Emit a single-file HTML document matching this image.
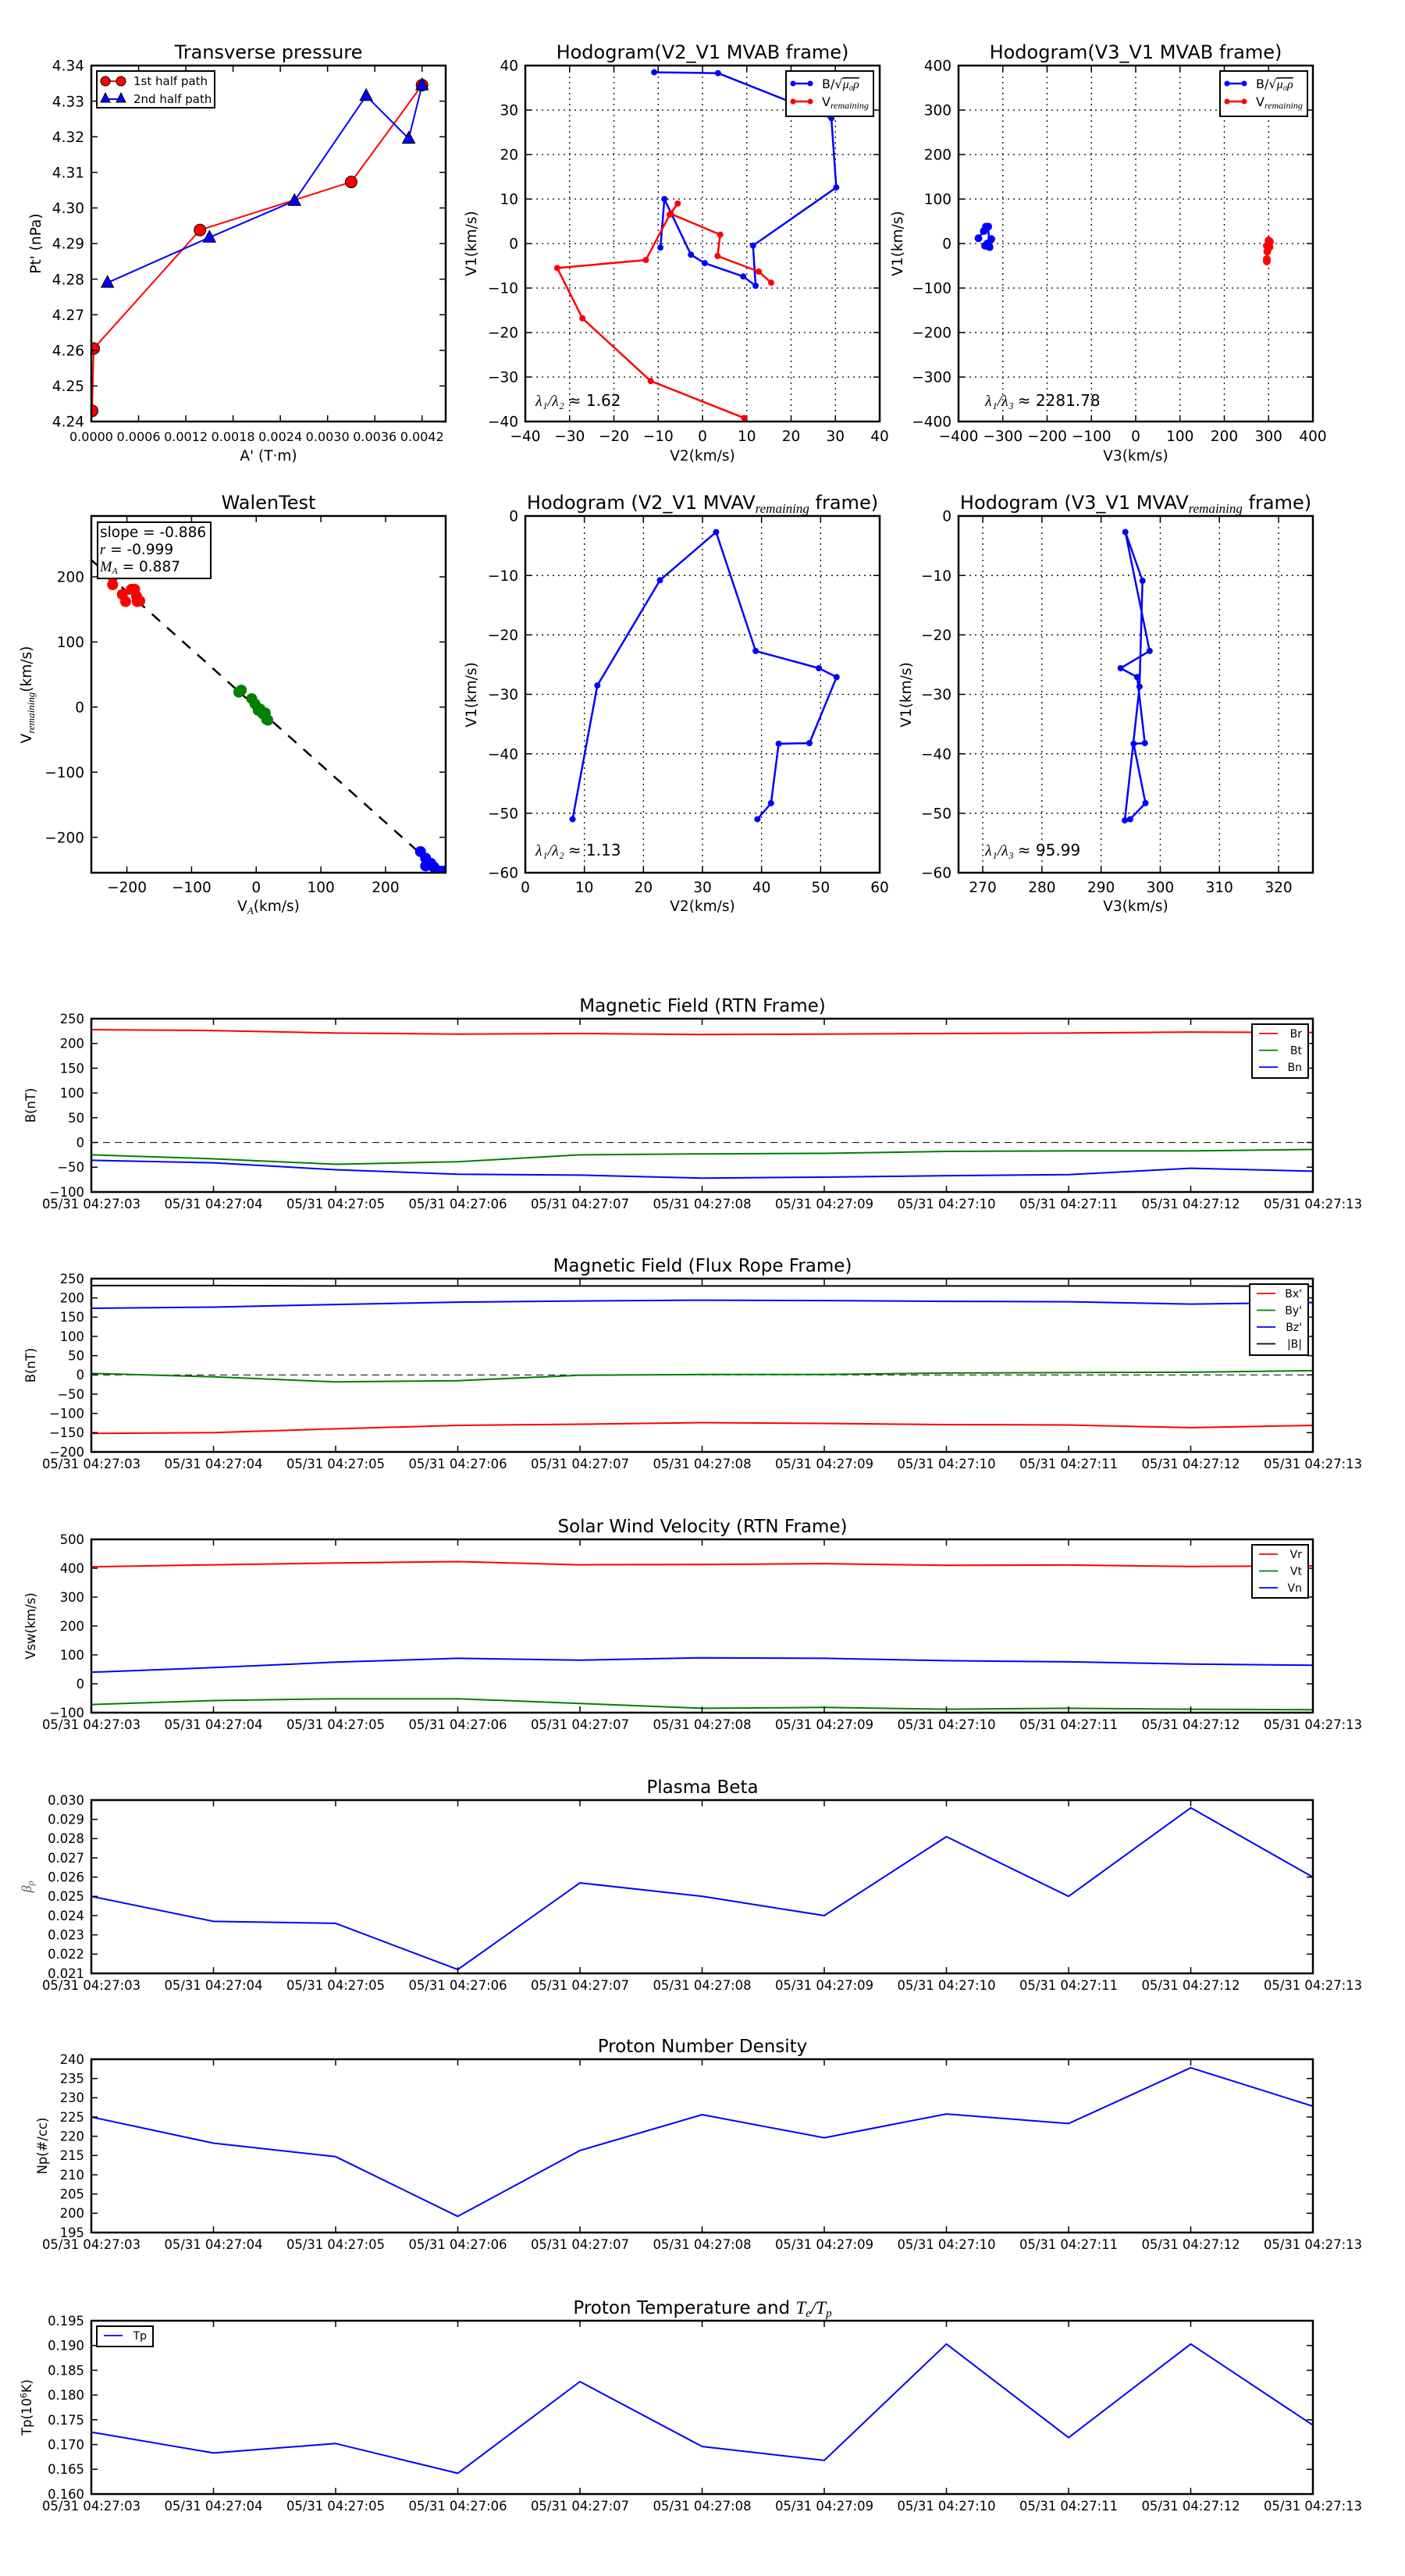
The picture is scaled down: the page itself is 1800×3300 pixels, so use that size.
<!DOCTYPE html>
<html><head><meta charset="utf-8"><style>
html,body{margin:0;padding:0;background:#fff}
svg{display:block;font-family:"DejaVu Sans","Liberation Sans",sans-serif}
</style></head><body>
<svg id="fig" xmlns="http://www.w3.org/2000/svg" width="1800" height="3300" viewBox="0 0 1800 3300"></svg>
<script>
// ---------- data ----------
const tpRedX=[0.00001,0.00003,0.00138,0.0033,0.0042];
const tpRedY=[4.243,4.2605,4.2938,4.3073,4.3345];
const tpBlueX=[0.000205,0.0015,0.00258,0.00349,0.00403,0.0042];
const tpBlueY=[4.279,4.2917,4.302,4.3315,4.3195,4.3345];
const h1BlueX=[-10.9,3.5,29.1,30.2,11.4,12.0,9.2,0.5,-2.6,-8.6,-9.5];
const h1BlueY=[38.5,38.3,28.2,12.6,-0.45,-9.5,-7.4,-4.4,-2.5,10,-0.9];
const h1RedX=[15.5,12.7,3.4,4.0,-7.2,-5.6,-7.4,-12.8,-32.8,-27.1,-11.7,9.4];
const h1RedY=[-8.8,-6.3,-2.8,2,6.7,9,6.5,-3.7,-5.5,-16.8,-30.9,-39.2];
const h2BlueX=[-355,-343,-338,-333,-330,-335,-340,-326];
const h2BlueY=[12,28,38,38,-8,0,-5,10];
const h2RedX=[296,300,303,302,297,296,296];
const h2RedY=[-5,7,4,-8,-18,-35,-40];
const walRedX=[-222,-207,-202,-193,-188,-185,-180,-184,-222];
const walRedY=[188,173,162,181,181,170,163,162,200];
const walGreenX=[-27,-23,-7,-2,3,6,10,14,16,18];
const walGreenY=[23,26,13,5,-5,-3,-10,-9,-19,-20];
const walBlueX=[254,262,262,270,275,280,284,290];
const walBlueY=[-222,-232,-244,-240,-246,-252,-252,-252];
const walSlope=-0.886;
const m2X=[8,12.2,22.8,32.3,39.0,49.7,52.7,48.1,42.9,41.6,39.3];
const m2Y=[-51,-28.5,-10.8,-2.7,-22.7,-25.6,-27.1,-38.2,-38.3,-48.3,-51.0];
const m3X=[294.0,296.5,297.0,294.1,298.2,293.3,296.1,297.4,295.5,297.5,294.9];
const m3Y=[-51.2,-28.7,-10.9,-2.7,-22.7,-25.6,-27.1,-38.2,-38.3,-48.3,-51.0];
const timeLabels=["05/31 04:27:03","05/31 04:27:04","05/31 04:27:05","05/31 04:27:06","05/31 04:27:07","05/31 04:27:08","05/31 04:27:09","05/31 04:27:10","05/31 04:27:11","05/31 04:27:12","05/31 04:27:13"];
const Br=[228,226,221,219,220,218,219,220,221,223,222];
const Bt=[-25,-33,-44,-39,-25,-23,-22,-18,-17,-17,-14];
const Bn=[-36,-41,-55,-64,-66,-72,-70,-67,-65,-52,-58];
const Bxp=[-152,-150,-140,-131,-128,-124,-126,-129,-130,-137,-131];
const Byp=[4,-5,-18,-15,-1,1,1,5,6,7,11];
const Bzp=[173,176,183,189,192,194,193,191,190,184,188];
const Bmag=[232,232,231,231,231,231,231,231,231,231,230];
const Vr=[405,412,418,423,412,413,416,410,411,406,408];
const Vt=[-72,-58,-52,-52,-68,-85,-82,-88,-85,-88,-90];
const Vn=[40,56,75,88,82,90,88,80,76,68,64];
const beta=[0.0250,0.0237,0.0236,0.0212,0.0257,0.0250,0.0240,0.0281,0.0250,0.0296,0.0260];
const Np=[225,218.2,214.7,199.2,216.3,225.6,219.6,225.8,223.3,237.8,227.8];
const Tp=[0.1725,0.1683,0.1702,0.1642,0.1827,0.1696,0.1668,0.1903,0.1714,0.1903,0.1739];

// ---------- helpers ----------
const NS="http://www.w3.org/2000/svg";
const fig=document.getElementById('fig');
const TF=18.5, TT=24;
function mk(tag,attrs,parent){const e=document.createElementNS(NS,tag);for(const k in attrs)e.setAttribute(k,attrs[k]);(parent||fig).appendChild(e);return e;}
function txt(s,attrs,parent){const e=mk('text',attrs,parent);e.textContent=s;return e;}
function axes(name,x0,y0,x1,y1,xmin,xmax,ymin,ymax){
  const g=mk('g',{});
  
  
  const sx=v=>x0+(v-xmin)/(xmax-xmin)*(x1-x0);
  const sy=v=>y1-(v-ymin)/(ymax-ymin)*(y1-y0);
  return {g,sx,sy,x0,y0,x1,y1};
}
function frame(a,sw){const r=mk('rect',{x:a.x0,y:a.y0,width:a.x1-a.x0,height:a.y1-a.y0,fill:'none',stroke:'#000','stroke-width':sw},a.g);
  
  }
function xticks(a,vals,labels,fs,grid,off){
  vals.forEach((v,i)=>{const x=a.sx(v);
    if(grid){const l=mk('line',{x1:x,x2:x,y1:a.y0,y2:a.y1,stroke:'#000','stroke-width':1.3,'stroke-dasharray':'2,5'},a.g);
      
      }
    mk('line',{x1:x,x2:x,y1:a.y1,y2:a.y1-8,stroke:'#000','stroke-width':1.5},a.g);
    mk('line',{x1:x,x2:x,y1:a.y0,y2:a.y0+8,stroke:'#000','stroke-width':1.5},a.g);
    const t=txt(labels[i],{x:x,y:a.y1+off,'font-size':fs,'text-anchor':'middle'},a.g);
    
    
  });
}
function yticks(a,vals,labels,fs,grid){
  vals.forEach((v,i)=>{const y=a.sy(v);
    if(grid){const l=mk('line',{x1:a.x0,x2:a.x1,y1:y,y2:y,stroke:'#000','stroke-width':1.3,'stroke-dasharray':'2,5'},a.g);
      
      }
    mk('line',{x1:a.x0,x2:a.x0+8,y1:y,y2:y,stroke:'#000','stroke-width':1.5},a.g);
    mk('line',{x1:a.x1,x2:a.x1-8,y1:y,y2:y,stroke:'#000','stroke-width':1.5},a.g);
    const t=txt(labels[i],{x:a.x0-9,y:y+fs*0.36,'font-size':fs,'text-anchor':'end'},a.g);
    
    
  });
}
function range(a,b,s){const r=[];for(let v=a;v<=b+s*1e-6;v+=s)r.push(+v.toFixed(6));return r;}
function neg(s){return s.replace('-','\u2212');}
function line(a,xs,ys,color,w,name){const pts=xs.map((x,i)=>a.sx(x).toFixed(1)+','+a.sy(ys[i]).toFixed(1)).join(' ');
  const p=mk('polyline',{points:pts,fill:'none',stroke:color,'stroke-width':w,'stroke-linejoin':'round'},a.g);
  
  return p;}
function dots(a,xs,ys,color,r,name,edge){xs.forEach((x,i)=>{const c=mk('circle',{cx:a.sx(x),cy:a.sy(ys[i]),r:r,fill:color,stroke:edge||'none','stroke-width':1},a.g);
  
  });}
function clip(a,id){const cp=mk('clipPath',{id:id});mk('rect',{x:a.x0,y:a.y0,width:a.x1-a.x0,height:a.y1-a.y0},cp);
  const g=mk('g',{'clip-path':'url(#'+id+')'},a.g);return g;}
function title(s,x,y,fs){const t=txt(s,{x:x,y:y,'font-size':fs,'text-anchor':'middle'});return t;}
function ylabel(s,x,y,fs){const t=txt(s,{x:x,y:y,'font-size':fs,'text-anchor':'middle',transform:'rotate(-90 '+x+' '+y+')'});return t;}
function xlabel(s,x,y,fs){const t=txt(s,{x:x,y:y,'font-size':fs,'text-anchor':'middle'});return t;}

// ---------- Transverse pressure ----------
(function(){
 const a=axes('transverse-pressure-chart',117,84,571,540,0,0.0045,4.24,4.34);
 title('Transverse pressure',344,75,TT);
 const g=clip(a,'c1');
 const A={...a,g:g};
 line(A,tpRedX,tpRedY,'#f00',2,'first-half-path-line');
 line(A,tpBlueX,tpBlueY,'#00f',2,'second-half-path-line');
 dots(A,tpRedX,tpRedY,'#f00',7.5,'first-half-point','#000');
 tpBlueX.forEach((x,i)=>{const cx=a.sx(x),cy=a.sy(tpBlueY[i]);
   const p=mk('polygon',{points:`${cx},${cy-9} ${cx-8},${cy+6} ${cx+8},${cy+6}`,fill:'#00f',stroke:'#000','stroke-width':1},g);
   
   });
 const xv=range(0,0.0042,0.0006);
 xticks(a,xv,xv.map(v=>v.toFixed(4)),16,false,25);
 const yv=range(4.24,4.34,0.01);
 yticks(a,yv,yv.map(v=>v.toFixed(2)),TF,false);
 frame(a,2.5);
 const lg=mk('g',{});
 mk('rect',{x:124,y:91,width:151,height:47,fill:'#fff',stroke:'#000','stroke-width':2},lg);
 mk('line',{x1:135,x2:155,y1:104,y2:104,stroke:'#f00','stroke-width':2},lg);
 mk('circle',{cx:135,cy:104,r:6,fill:'#f00',stroke:'#000'},lg);mk('circle',{cx:155,cy:104,r:6,fill:'#f00',stroke:'#000'},lg);
 txt('1st half path',{x:171,y:109,'font-size':15},lg);
 mk('line',{x1:135,x2:155,y1:127,y2:127,stroke:'#00f','stroke-width':2},lg);
 mk('polygon',{points:'135,119 129,131 141,131',fill:'#00f',stroke:'#000'},lg);mk('polygon',{points:'155,119 149,131 161,131',fill:'#00f',stroke:'#000'},lg);
 txt('2nd half path',{x:171,y:132,'font-size':15},lg);
 ylabel("Pt' (nPa)",52,312,TF);
 xlabel("A' (T\u00b7m)",344,590,TF);
})();

function hodoLegend(x,y){
 const lg=mk('g',{});
 mk('rect',{x:x,y:y,width:112,height:58,fill:'#fff',stroke:'#000','stroke-width':2},lg);
 mk('line',{x1:x+9,x2:x+31,y1:y+16,y2:y+16,stroke:'#00f','stroke-width':2.5},lg);
 mk('circle',{cx:x+9,cy:y+16,r:3.5,fill:'#00f'},lg);mk('circle',{cx:x+31,cy:y+16,r:3.5,fill:'#00f'},lg);
 const t1=txt('B/\u221A',{x:x+46,y:y+22,'font-size':16},lg);
 const ts=mk('tspan',{'font-style':'italic','font-family':'Liberation Serif, serif','text-decoration':'overline'},t1);ts.textContent='\u03BC\u2080\u03C1';
 mk('line',{x1:x+9,x2:x+31,y1:y+39,y2:y+39,stroke:'#f00','stroke-width':2.5},lg);
 mk('circle',{cx:x+9,cy:y+39,r:3.5,fill:'#f00'},lg);mk('circle',{cx:x+31,cy:y+39,r:3.5,fill:'#f00'},lg);
 const t2=txt('V',{x:x+46,y:y+45,'font-size':16},lg);
 const s2=mk('tspan',{'font-style':'italic','font-family':'Liberation Serif, serif','font-size':12,dy:3},t2);s2.textContent='remaining';
}
function lambdaText(s,x,y){const t=txt('',{x:x,y:y,'font-size':20},null);
 
 
 const a=mk('tspan',{'font-style':'italic','font-family':'Liberation Serif, serif'},t);a.textContent=s.split('|')[0];
 const b=mk('tspan',{},t);b.textContent=s.split('|')[1];}

// ---------- Hodogram V2_V1 MVAB ----------
(function(){
 const a=axes('hodogram-v2-v1-mvab-chart',673,84,1127,540,-40,40,-40,40);
 title('Hodogram(V2_V1 MVAB frame)',900,75,TT);
 const tv=range(-40,40,10);
 xticks(a,tv,tv.map(v=>neg(String(v))),TF,true,25);
 yticks(a,tv,tv.map(v=>neg(String(v))),TF,true);
 const g=clip(a,'c2');const A={...a,g:g};
 line(A,h1BlueX,h1BlueY,'#00f',2.5,'b-alfven-line');
 dots(A,h1BlueX,h1BlueY,'#00f',4,'b-alfven-point');
 line(A,h1RedX,h1RedY,'#f00',2.5,'v-remaining-line');
 dots(A,h1RedX,h1RedY,'#f00',4,'v-remaining-point');
 frame(a,2.5);
 hodoLegend(1007,91);
 lambdaText('\u03BB\u2081/\u03BB\u2082 |\u2248 1.62',686,520);
 ylabel('V1(km/s)',610,312,TF);
 xlabel('V2(km/s)',900,590,TF);
})();

// ---------- Hodogram V3_V1 MVAB ----------
(function(){
 const a=axes('hodogram-v3-v1-mvab-chart',1228,84,1682,540,-400,400,-400,400);
 title('Hodogram(V3_V1 MVAB frame)',1455,75,TT);
 const tv=range(-400,400,100);
 xticks(a,tv,tv.map(v=>neg(String(v))),TF,true,25);
 yticks(a,tv,tv.map(v=>neg(String(v))),TF,true);
 const g=clip(a,'c3');const A={...a,g:g};
 line(A,h2BlueX,h2BlueY,'#00f',2.5,'b-alfven-line');
 dots(A,h2BlueX,h2BlueY,'#00f',5,'b-alfven-point');
 line(A,h2RedX,h2RedY,'#f00',2.5,'v-remaining-line');
 dots(A,h2RedX,h2RedY,'#f00',5,'v-remaining-point');
 frame(a,2.5);
 hodoLegend(1563,91);
 lambdaText('\u03BB\u2081/\u03BB\u2083 |\u2248 2281.78',1262,520);
 ylabel('V1(km/s)',1156,312,TF);
 xlabel('V3(km/s)',1455,590,TF);
})();

// ---------- Walen test ----------
(function(){
 const a=axes('walen-test-chart',117,661,571,1118,-255,293,-254.4,293.5);
 title('WalenTest',344,652,TT);
 const g=clip(a,'c4');const A={...a,g:g};
 const d=mk('line',{x1:a.sx(-255),y1:a.sy(walSlope*-255),x2:a.sx(293),y2:a.sy(walSlope*293),stroke:'#000','stroke-width':2.5,'stroke-dasharray':'14,12'},g);
 
 
 dots(A,walRedX,walRedY,'#f00',7,'walen-point-red');
 dots(A,walGreenX,walGreenY,'#008000',7,'walen-point-green');
 dots(A,walBlueX,walBlueY,'#00f',7,'walen-point-blue');
 const tv=[-200,-100,0,100,200];
 xticks(a,tv,tv.map(v=>neg(String(v))),TF,false,25);
 yticks(a,tv,tv.map(v=>neg(String(v))),TF,false);
 frame(a,2.5);
 const bx=mk('g',{});
 mk('rect',{x:125,y:669,width:145,height:72,fill:'#fff',stroke:'#000','stroke-width':2},bx);
 txt('slope = -0.886',{x:128,y:688,'font-size':18.5},bx);
 const t2=txt('',{x:128,y:710,'font-size':18.5},bx);
 const r=mk('tspan',{'font-style':'italic','font-family':'Liberation Serif, serif'},t2);r.textContent='r';
 const r2=mk('tspan',{},t2);r2.textContent=' = -0.999';
 const t3=txt('',{x:128,y:732,'font-size':18.5},bx);
 const m=mk('tspan',{'font-style':'italic','font-family':'Liberation Serif, serif'},t3);m.textContent='M';
 const ms=mk('tspan',{'font-style':'italic','font-family':'Liberation Serif, serif','font-size':12,dy:3},t3);ms.textContent='A';
 const m3=mk('tspan',{dy:-3},t3);m3.textContent=' = 0.887';
 const yl=txt('',{x:40,y:890,'font-size':TF,'text-anchor':'middle',transform:'rotate(-90 40 890)'});
 
 
 const y1=mk('tspan',{},yl);y1.textContent='V';
 const y2=mk('tspan',{'font-style':'italic','font-family':'Liberation Serif, serif','font-size':13,dy:4},yl);y2.textContent='remaining';
 const y3=mk('tspan',{dy:-4},yl);y3.textContent='(km/s)';
 const xl=txt('',{x:344,y:1167,'font-size':TF,'text-anchor':'middle'});
 
 
 const x1=mk('tspan',{},xl);x1.textContent='V';
 const x2=mk('tspan',{'font-style':'italic','font-family':'Liberation Serif, serif','font-size':13,dy:4},xl);x2.textContent='A';
 const x3=mk('tspan',{dy:-4},xl);x3.textContent='(km/s)';
})();

function mvavTitle(pre,cx){const t=txt('',{x:cx,y:652,'font-size':TT,'text-anchor':'middle'});
 
 
 const a=mk('tspan',{},t);a.textContent=pre;
 const b=mk('tspan',{'font-style':'italic','font-family':'Liberation Serif, serif','font-size':17,dy:5},t);b.textContent='remaining';
 const c=mk('tspan',{dy:-5},t);c.textContent=' frame)';}

// ---------- Hodogram V2_V1 MVAV ----------
(function(){
 const a=axes('hodogram-v2-v1-mvav-chart',673,661,1127,1118,0,60,-60,0);
 mvavTitle('Hodogram (V2_V1 MVAV',900);
 const xv=range(0,60,10),yv=range(-60,0,10);
 xticks(a,xv,xv.map(v=>neg(String(v))),TF,true,25);
 yticks(a,yv,yv.map(v=>neg(String(v))),TF,true);
 const g=clip(a,'c5');const A={...a,g:g};
 line(A,m2X,m2Y,'#00f',2.5,'hodogram-line');
 dots(A,m2X,m2Y,'#00f',4,'hodogram-point');
 frame(a,2.5);
 lambdaText('\u03BB\u2081/\u03BB\u2082 |\u2248 1.13',686,1096);
 ylabel('V1(km/s)',610,890,TF);
 xlabel('V2(km/s)',900,1167,TF);
})();

// ---------- Hodogram V3_V1 MVAV ----------
(function(){
 const a=axes('hodogram-v3-v1-mvav-chart',1228,661,1682,1118,265.9,325.8,-60,0);
 mvavTitle('Hodogram (V3_V1 MVAV',1455);
 const xv=range(270,320,10),yv=range(-60,0,10);
 xticks(a,xv,xv.map(v=>String(v)),TF,true,25);
 yticks(a,yv,yv.map(v=>neg(String(v))),TF,true);
 const g=clip(a,'c6');const A={...a,g:g};
 line(A,m3X,m3Y,'#00f',2.5,'hodogram-line');
 dots(A,m3X,m3Y,'#00f',4,'hodogram-point');
 frame(a,2.5);
 lambdaText('\u03BB\u2081/\u03BB\u2083 |\u2248 95.99',1262,1096);
 ylabel('V1(km/s)',1167,890,TF);
 xlabel('V3(km/s)',1455,1167,TF);
})();

// ---------- Time series ----------
const tIdx=timeLabels.map((_,i)=>i);
const SF=16.4, ST=23;
function tsPanel(name,top,ymin,ymax,ystep,dec,ttl,yl,ylx,series,zero,legend){
 const a=axes(name,117,top,1682,top+222,0,10,ymin,ymax);
 if(typeof ttl==='string')title(ttl,900,top-9,ST);else ttl(top-9);
 const g=clip(a,'ct'+top);const A={...a,g:g};
 if(zero){const z=mk('line',{x1:a.x0,x2:a.x1,y1:a.sy(0),y2:a.sy(0),stroke:'#000','stroke-width':1,'stroke-dasharray':'9,6'},g);
   
   }
 series.forEach(s=>line(A,tIdx,s.v,s.c,2,s.n+'-line'));
 xticks(a,tIdx,timeLabels,SF,false,21);
 const yv=range(ymin,ymax,ystep);
 yticks(a,yv,yv.map(v=>neg(v.toFixed(dec))),SF,false);
 frame(a,2.5);
 if(typeof yl==='string')ylabel(yl,ylx,top+111,SF);else yl(ylx,top+111);
 if(legend){const lg=mk('g',{});
   mk('rect',{x:legend.x,y:legend.y,width:legend.w,height:legend.h,fill:'#fff',stroke:'#000','stroke-width':2},lg);
   legend.items.forEach((it,i)=>{const yy=legend.y+12+i*21.5;
     mk('line',{x1:legend.x+9,x2:legend.x+33,y1:yy,y2:yy,stroke:it.c,'stroke-width':1.8},lg);
     txt(it.n,{x:legend.x+legend.w-8,y:yy+5,'font-size':14,'text-anchor':'end'},lg);});}
}
tsPanel('magnetic-field-rtn-chart',1305,-100,250,50,0,'Magnetic Field (RTN Frame)','B(nT)',45,
 [{v:Br,c:'#f00',n:'br'},{v:Bt,c:'#008000',n:'bt'},{v:Bn,c:'#00f',n:'bn'}],true,
 {x:1604,y:1312,w:72,h:69,items:[{n:'Br',c:'#f00'},{n:'Bt',c:'#008000'},{n:'Bn',c:'#00f'}]});
tsPanel('magnetic-field-flux-rope-chart',1638,-200,250,50,0,'Magnetic Field (Flux Rope Frame)','B(nT)',45,
 [{v:Bmag,c:'#000',n:'b-magnitude'},{v:Bxp,c:'#f00',n:'bx-prime'},{v:Byp,c:'#008000',n:'by-prime'},{v:Bzp,c:'#00f',n:'bz-prime'}],true,
 {x:1601,y:1645,w:75,h:91,items:[{n:"Bx'",c:'#f00'},{n:"By'",c:'#008000'},{n:"Bz'",c:'#00f'},{n:'|B|',c:'#000'}]});
tsPanel('solar-wind-velocity-chart',1972,-100,500,100,0,'Solar Wind Velocity (RTN Frame)','Vsw(km/s)',45,
 [{v:Vr,c:'#f00',n:'vr'},{v:Vt,c:'#008000',n:'vt'},{v:Vn,c:'#00f',n:'vn'}],false,
 {x:1604,y:1979,w:72,h:68,items:[{n:'Vr',c:'#f00'},{n:'Vt',c:'#008000'},{n:'Vn',c:'#00f'}]});
tsPanel('plasma-beta-chart',2306,0.021,0.030,0.001,3,'Plasma Beta',function(x,y){
 const t=txt('\u03B2',{x:x,y:y,'font-size':18,'font-style':'italic','font-family':'Liberation Serif, serif','text-anchor':'middle',transform:'rotate(-90 '+x+' '+y+')',fill:'#555'});
 
 
 const s=mk('tspan',{'font-size':12,dy:3},t);s.textContent='p';},40,
 [{v:beta,c:'#00f',n:'plasma-beta'}],false,null);
tsPanel('proton-density-chart',2638,195,240,5,0,'Proton Number Density','Np(#/cc)',60,
 [{v:Np,c:'#00f',n:'proton-density'}],false,null);
tsPanel('proton-temperature-chart',2973,0.160,0.195,0.005,3,function(y){
 const t=txt('',{x:900,y:y,'font-size':ST,'text-anchor':'middle'});
 
 
 const a=mk('tspan',{},t);a.textContent='Proton Temperature and ';
 const b=mk('tspan',{'font-style':'italic','font-family':'Liberation Serif, serif'},t);b.textContent='T';
 const c=mk('tspan',{'font-style':'italic','font-family':'Liberation Serif, serif','font-size':15,dy:4},t);c.textContent='e';
 const d=mk('tspan',{'font-style':'italic','font-family':'Liberation Serif, serif',dy:-4},t);d.textContent='/T';
 const e=mk('tspan',{'font-style':'italic','font-family':'Liberation Serif, serif','font-size':15,dy:4},t);e.textContent='p';
},function(x,y){
 const t=txt('Tp(10',{x:x,y:y,'font-size':SF,'text-anchor':'middle',transform:'rotate(-90 '+x+' '+y+')'});
 
 
 const s=mk('tspan',{'font-size':11,dy:-6},t);s.textContent='6';
 const k=mk('tspan',{dy:6},t);k.textContent='K)';},40,
 [{v:Tp,c:'#00f',n:'proton-temperature'}],false,
 {x:124,y:2980,w:72,h:26,items:[{n:'Tp',c:'#00f'}]});
</script>
</body></html>
